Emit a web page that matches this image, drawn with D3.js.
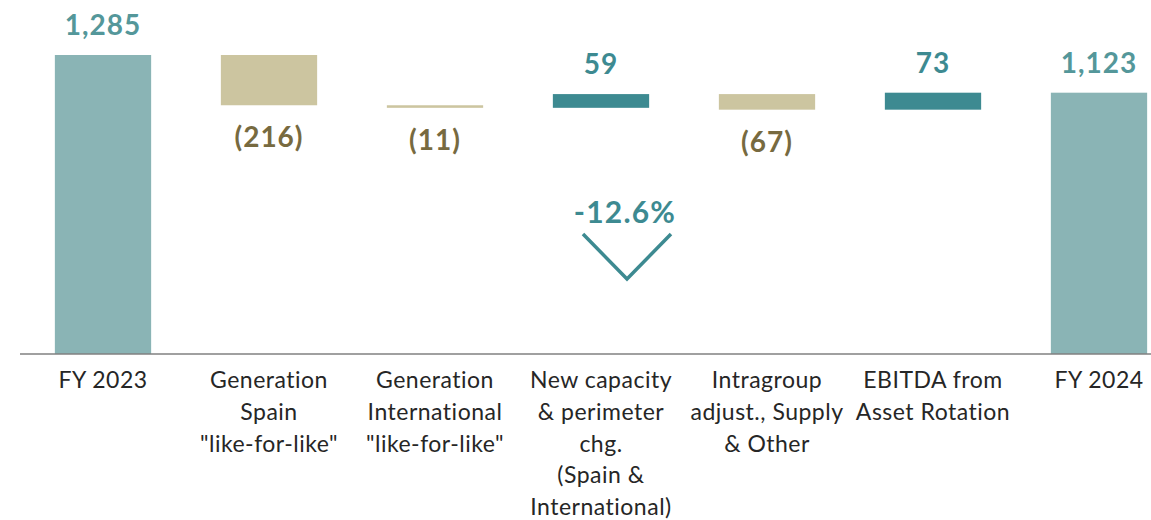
<!DOCTYPE html>
<html>
<head>
<meta charset="utf-8">
<script src="https://cdn.jsdelivr.net/npm/d3@7"></script>
<style>
  html, body { margin: 0; padding: 0; background: #ffffff; }
  svg { display: block; }
  text { font-family: Lato, "Noto Sans", sans-serif; }
</style>
</head>
<body>
<svg id="chart" width="1151" height="520"></svg>
<script>
// EBITDA bridge, FY 2023 -> FY 2024 (€m)
const categories = [
  ["FY 2023"],
  ["Generation", "Spain", "\"like-for-like\""],
  ["Generation", "International", "\"like-for-like\""],
  ["New capacity", "& perimeter", "chg.", "(Spain &", "International)"],
  ["Intragroup", "adjust., Supply", "& Other"],
  ["EBITDA from", "Asset Rotation"],
  ["FY 2024"]
];
const values = [1285, -216, -11, 59, -67, 73, 1123];
const kinds = ["total", "delta", "delta", "delta", "delta", "delta", "total"];

const colors = {
  total: "#8ab4b5",
  up: "#3d8a91",
  down: "#ccc5a0",
  totalText: "#54979a",
  upText: "#3d8a91",
  downText: "#776a40",
  axis: "#808080",
  catText: "#262626",
  arrow: "#3d8a91"
};

const svg = d3.select("#chart");
const W = 1151, H = 520;

// running waterfall segments
let running = 0;
const rows = values.map((v, i) => {
  let start, end;
  if (kinds[i] === "total") { start = 0; end = v; running = v; }
  else { start = running; end = running + v; running = end; }
  return { key: i, lines: categories[i], value: v, kind: kinds[i], start, end };
});

const x = d3.scaleBand()
  .domain(rows.map(d => d.key))
  .range([20, 1182])
  .paddingInner(0.42)
  .paddingOuter(0.21);

const yMax = d3.max(rows, d => Math.max(d.start, d.end));
const y = d3.scaleLinear().domain([0, yMax]).range([354, 55]);

function fill(d) {
  if (d.kind === "total") return colors.total;
  return d.value >= 0 ? colors.up : colors.down;
}
function textColor(d) {
  if (d.kind === "total") return colors.totalText;
  return d.value >= 0 ? colors.upText : colors.downText;
}
const fmt = d3.format(",");
function labelText(d) {
  if (d.value < 0) return "(" + fmt(-d.value) + ")";
  return fmt(d.value);
}

// bars
svg.append("g").selectAll("rect")
  .data(rows)
  .join("rect")
  .attr("x", d => x(d.key))
  .attr("width", x.bandwidth())
  .attr("y", d => y(Math.max(d.start, d.end)))
  .attr("height", d => Math.abs(y(d.start) - y(d.end)))
  .attr("fill", fill);

// baseline axis
const axis = d3.axisBottom(x).tickSize(0).tickFormat("");
const axisG = svg.append("g")
  .attr("transform", `translate(0,${y(0)})`)
  .call(axis);
axisG.select(".domain")
  .attr("d", `M20,0H${W}`)
  .attr("stroke", colors.axis)
  .attr("stroke-width", 1.6);

// category labels
const catG = svg.append("g");
rows.forEach(d => {
  const t = catG.append("text")
    .attr("x", x(d.key) + x.bandwidth() / 2)
    .attr("y", y(0) + 34)
    .attr("text-anchor", "middle")
    .attr("font-size", 23)
    .attr("letter-spacing", 0.5)
    .attr("fill", colors.catText);
  d.lines.forEach((line, j) => {
    t.append("tspan")
      .attr("x", x(d.key) + x.bandwidth() / 2)
      .attr("dy", j === 0 ? 0 : 31.8)
      .text(line);
  });
});

// value labels
svg.append("g").selectAll("text")
  .data(rows)
  .join("text")
  .attr("x", d => x(d.key) + x.bandwidth() / 2)
  .attr("y", d => d.value < 0
    ? y(Math.min(d.start, d.end)) + 42
    : y(Math.max(d.start, d.end)) - 20)
  .attr("text-anchor", "middle")
  .attr("font-size", 28)
  .attr("letter-spacing", 1)
  .attr("font-weight", 700)
  .attr("fill", textColor)
  .text(labelText);

// year-on-year change marker
const first = values[0], last = values[values.length - 1];
const pct = (last - first) / first;
const ax = 627;
svg.append("text")
  .attr("x", ax - 2)
  .attr("y", 223)
  .attr("text-anchor", "middle")
  .attr("font-size", 30)
  .attr("letter-spacing", 1.2)
  .attr("font-weight", 700)
  .attr("fill", colors.arrow)
  .text(d3.format(".1%")(pct).replace("−", "-"));
svg.append("path")
  .attr("d", d3.line()([[ax - 44, 234], [ax, 279], [ax + 44, 234]]))
  .attr("fill", "none")
  .attr("stroke", colors.arrow)
  .attr("stroke-width", 3.5);
</script>
</body>
</html>
